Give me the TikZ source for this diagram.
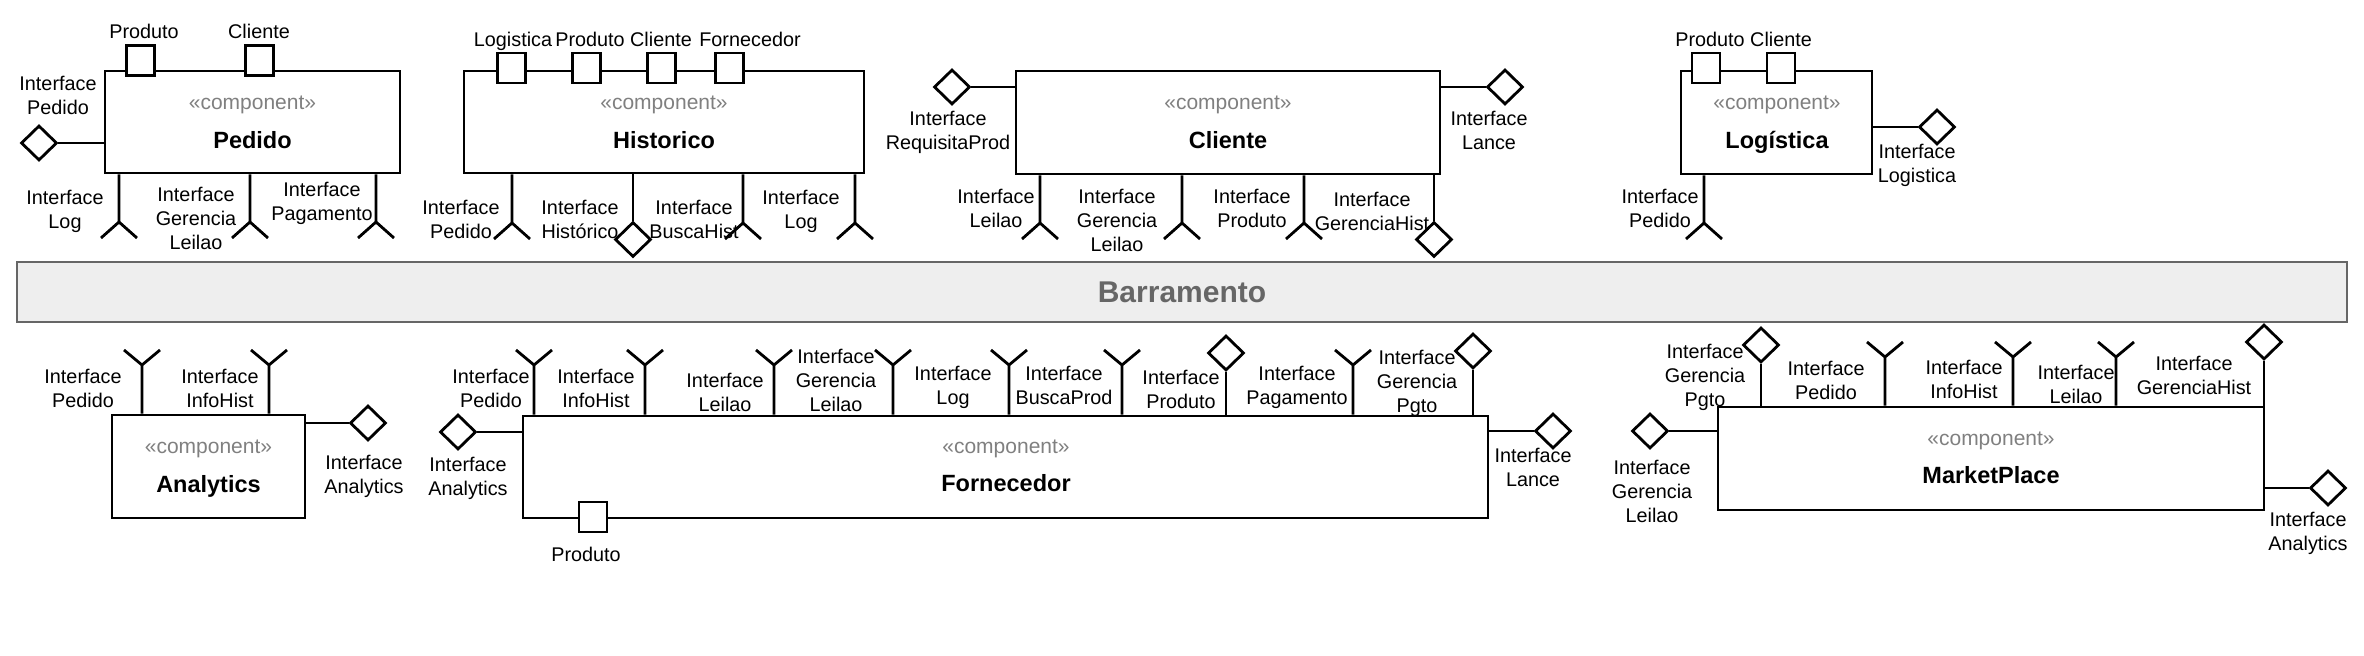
\documentclass[tikz,border=0pt]{standalone}
\usepackage{fontspec}
\setmainfont{Liberation Sans}
\usetikzlibrary{shapes.geometric}
\definecolor{stereogray}{HTML}{808080}
\definecolor{busfill}{HTML}{EEEEEE}
\definecolor{busline}{HTML}{666666}
\tikzset{
  wire/.style={line width=1.4pt},
  comp/.style={draw, line width=1.4pt, fill=white, inner sep=0pt},
  port/.style={draw, line width=1.4pt, fill=white, inner sep=0pt, minimum width=14pt, minimum height=15pt},
  prov/.style={diamond, draw, line width=1.4pt, fill=white, inner sep=0pt, minimum width=18pt, minimum height=17.5pt},
  lbl/.style={font=\fontsize{9.9}{12}\selectfont, align=center, inner sep=0pt, anchor=base},
  stereotype/.style={font=\fontsize{10.5}{12}\selectfont, text=stereogray, inner sep=0pt, anchor=base},
  ctitle/.style={font=\bfseries\fontsize{11.75}{14}\selectfont, inner sep=0pt, anchor=base},
  bus/.style={draw=busline, fill=busfill, line width=0.8pt, inner sep=0pt, text=busline, font=\bfseries\fontsize{15}{18}\selectfont}
}
% required interface below a box
\newcommand\reqdn[4]{\coordinate (#2) at (#3,#4);
  \draw[wire] (#1.south -| #2) -- (#2) -- ++(-18,16) (#2) -- ++(18,16);}
% required interface above a box
\newcommand\requp[4]{\coordinate (#2) at (#3,#4);
  \draw[wire] (#1.north -| #2) -- (#2) -- ++(-18,-15) (#2) -- ++(18,-15);}
\newcommand\provdn[4]{\node[prov] (#2) at (#3,#4) {}; \draw[wire] (#1.south -| #2) -- (#2.north);}
\newcommand\provup[4]{\node[prov] (#2) at (#3,#4) {}; \draw[wire] (#1.north -| #2) -- (#2.south);}
\newcommand\provlf[4]{\node[prov] (#2) at (#3,#4) {}; \draw[wire] (#1.west |- #2) -- (#2.east);}
\newcommand\provrt[4]{\node[prov] (#2) at (#3,#4) {}; \draw[wire] (#1.east |- #2) -- (#2.west);}
\begin{document}
\begin{tikzpicture}[x=0.5pt,y=-0.5pt]
\useasboundingbox (0,0) rectangle (2364,656);

% ---------------- Pedido
\node[comp, minimum width=147.5pt, minimum height=51pt] (ped) at (252.5,122) {};
\node[stereotype] (pedS) at (252.5,110) {«component»};
\node[ctitle] (pedT) at (252.5,149) {Pedido};
\node[port] (pedP1) at (140.5,60.5) {};
\node[lbl] (pedP1l) at (144,39) {Produto};
\node[port] (pedP2) at (259.5,60.5) {};
\node[lbl] (pedP2l) at (259,39) {Cliente};
\provlf{ped}{pedI}{39}{143}
\node[lbl] (pedIl) at (58,115) {Interface\\Pedido};
\reqdn{ped}{pedR1}{119}{222}
\node[lbl] (pedR1l) at (65,229) {Interface\\Log};
\reqdn{ped}{pedR2}{250}{222}
\node[lbl] (pedR2l) at (196,250) {Interface\\Gerencia\\Leilao};
\reqdn{ped}{pedR3}{376}{222}
\node[lbl] (pedR3l) at (322,221) {Interface\\Pagamento};

% ---------------- Historico
\node[comp, minimum width=200pt, minimum height=51pt] (his) at (664,122) {};
\node[stereotype] (hisS) at (664,110) {«component»};
\node[ctitle] (hisT) at (664,149) {Historico};
\node[port] (hisP1) at (511.5,68) {};
\node[port] (hisP2) at (586.5,68) {};
\node[port] (hisP3) at (661.5,68) {};
\node[port] (hisP4) at (729.5,68) {};
\node[lbl] (hisP1l) at (513,47) {Logistica};
\node[lbl] (hisP2l) at (590,47) {Produto};
\node[lbl] (hisP3l) at (661,47) {Cliente};
\node[lbl] (hisP4l) at (750,47) {Fornecedor};
\reqdn{his}{hisR1}{512}{223}
\provdn{his}{hisD1}{633}{239.5}
\reqdn{his}{hisR2}{743}{223}
\reqdn{his}{hisR3}{855}{223}
\node[lbl] (hisR1l) at (461,239) {Interface\\Pedido};
\node[lbl] (hisD1l) at (580,239) {Interface\\Histórico};
\node[lbl] (hisR2l) at (694,239) {Interface\\BuscaHist};
\node[lbl] (hisR3l) at (801,229) {Interface\\Log};

% ---------------- Cliente
\node[comp, minimum width=212pt, minimum height=51.5pt] (cli) at (1228,122.5) {};
\node[stereotype] (cliS) at (1228,110) {«component»};
\node[ctitle] (cliT) at (1228,149) {Cliente};
\provlf{cli}{cliL}{952}{87}
\node[lbl] (cliLl) at (948,150) {Interface\\RequisitaProd};
\provrt{cli}{cliR}{1505}{87}
\node[lbl] (cliRl) at (1489,150) {Interface\\Lance};
\reqdn{cli}{cliR1}{1040}{223}
\reqdn{cli}{cliR2}{1182}{223}
\reqdn{cli}{cliR3}{1304}{223}
\provdn{cli}{cliD1}{1434}{239.5}
\node[lbl] (cliR1l) at (996,228) {Interface\\Leilao};
\node[lbl] (cliR2l) at (1117,252) {Interface\\Gerencia\\Leilao};
\node[lbl] (cliR3l) at (1252,228) {Interface\\Produto};
\node[lbl] (cliD1l) at (1372,231) {Interface\\GerenciaHist};

% ---------------- Logistica
\node[comp, minimum width=95.5pt, minimum height=51.5pt] (log) at (1776.5,122.5) {};
\node[stereotype] (logS) at (1777,110) {«component»};
\node[ctitle] (logT) at (1777,149) {Logística};
\node[port] (logP1) at (1706,68) {};
\node[port] (logP2) at (1781,68) {};
\node[lbl] (logP1l) at (1710,47) {Produto};
\node[lbl] (logP2l) at (1781,47) {Cliente};
\provrt{log}{logD}{1937}{127}
\node[lbl] (logDl) at (1917,183) {Interface\\Logistica};
\reqdn{log}{logR1}{1704}{223}
\node[lbl] (logR1l) at (1660,228) {Interface\\Pedido};

% ---------------- Barramento
\node[bus, minimum width=1165pt, minimum height=30pt] (bar) at (1182,292) {Barramento};

% ---------------- Analytics
\node[comp, minimum width=96.5pt, minimum height=51.5pt] (ana) at (208.5,466.5) {};
\node[stereotype] (anaS) at (208.5,454) {«component»};
\node[ctitle] (anaT) at (208.5,493) {Analytics};
\requp{ana}{anaR1}{142}{365}
\requp{ana}{anaR2}{269}{365}
\node[lbl] (anaR1l) at (83,408) {Interface\\Pedido};
\node[lbl] (anaR2l) at (220,408) {Interface\\InfoHist};
\provrt{ana}{anaD}{368}{423}
\node[lbl] (anaDl) at (364,494) {Interface\\Analytics};

% ---------------- Fornecedor
\node[comp, minimum width=482.5pt, minimum height=51pt] (for) at (1005.5,467) {};
\node[stereotype] (forS) at (1006,454) {«component»};
\node[ctitle] (forT) at (1006,492) {Fornecedor};
\provlf{for}{forL}{458}{432}
\node[lbl] (forLl) at (468,496) {Interface\\Analytics};
\provrt{for}{forR}{1553}{431}
\node[lbl] (forRl) at (1533,487) {Interface\\Lance};
\node[port] (forP) at (593,517) {};
\node[lbl] (forPl) at (586,562) {Produto};
\requp{for}{forR1}{534}{365}
\requp{for}{forR2}{645}{365}
\requp{for}{forR3}{774}{365}
\requp{for}{forR4}{893}{365}
\requp{for}{forR5}{1009}{365}
\requp{for}{forR6}{1122}{365}
\provup{for}{forD1}{1226}{353}
\requp{for}{forR7}{1353}{365}
\provup{for}{forD2}{1473}{351}
\node[lbl] (forR1l) at (491,408) {Interface\\Pedido};
\node[lbl] (forR2l) at (596,408) {Interface\\InfoHist};
\node[lbl] (forR3l) at (725,412) {Interface\\Leilao};
\node[lbl] (forR4l) at (836,412) {Interface\\Gerencia\\Leilao};
\node[lbl] (forR5l) at (953,405) {Interface\\Log};
\node[lbl] (forR6l) at (1064,405) {Interface\\BuscaProd};
\node[lbl] (forD1l) at (1181,409) {Interface\\Produto};
\node[lbl] (forR7l) at (1297,405) {Interface\\Pagamento};
\node[lbl] (forD2l) at (1417,413) {Interface\\Gerencia\\Pgto};

% ---------------- MarketPlace
\node[comp, minimum width=273pt, minimum height=51.5pt] (mkt) at (1991,458.5) {};
\node[stereotype] (mktS) at (1991,446) {«component»};
\node[ctitle] (mktT) at (1991,484) {MarketPlace};
\provup{mkt}{mktD1}{1761}{345}
\requp{mkt}{mktR1}{1885}{357}
\requp{mkt}{mktR2}{2013}{357}
\requp{mkt}{mktR3}{2116}{357}
\provup{mkt}{mktD2}{2264}{342}
\provlf{mkt}{mktL}{1650}{431}
\provrt{mkt}{mktR}{2328}{488}
\node[lbl] (mktD1l) at (1705,407) {Interface\\Gerencia\\Pgto};
\node[lbl] (mktR1l) at (1826,400) {Interface\\Pedido};
\node[lbl] (mktR2l) at (1964,399) {Interface\\InfoHist};
\node[lbl] (mktR3l) at (2076,404) {Interface\\Leilao};
\node[lbl] (mktD2l) at (2194,395) {Interface\\GerenciaHist};
\node[lbl] (mktLl) at (1652,523) {Interface\\Gerencia\\Leilao};
\node[lbl] (mktRl) at (2308,551) {Interface\\Analytics};
\end{tikzpicture}
\end{document}
